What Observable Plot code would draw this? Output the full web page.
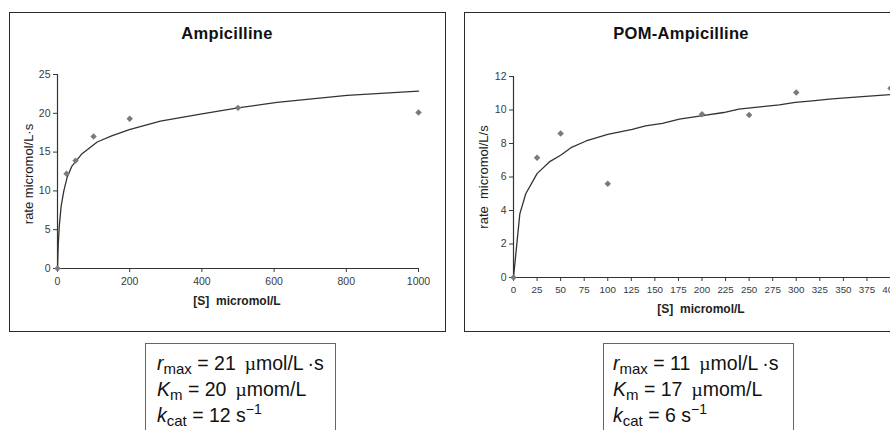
<!DOCTYPE html>
<html>
<head>
<meta charset="utf-8">
<script src="https://cdn.jsdelivr.net/npm/d3@7"></script>
<script src="https://cdn.jsdelivr.net/npm/@observablehq/plot@0.6"></script>
<style>
  html, body { margin: 0; padding: 0; }
  body { width: 890px; height: 430px; overflow: hidden; position: relative; background: #fff;
         font-family: "Liberation Sans", Arial, sans-serif; }
  .abs { position: absolute; }
  .abs svg { max-width: none !important; }
  .panel { position: absolute; border: 1.5px solid #2a2a2a; box-sizing: border-box; }
  .box { position: absolute; border: 1.3px solid #666; box-sizing: border-box; }
  #overlay { position: absolute; left: 0; top: 0; }
</style>
</head>
<body>
<div id="leftChart" class="abs" style="left:0;top:0;width:445px;height:335px"></div>
<div id="rightChart" class="abs" style="left:445px;top:0;width:480px;height:335px"></div>
<div class="panel" style="left:9px;top:12px;width:437px;height:320px"></div>
<div class="panel" style="left:464px;top:12px;width:440px;height:320px"></div>
<div class="box" style="left:145px;top:343px;width:191px;height:100px"></div>
<div class="box" style="left:603px;top:343px;width:191px;height:100px"></div>
<svg id="overlay" width="890" height="430" font-family="Liberation Sans, Arial, sans-serif"></svg>
<script>
// ---- Ampicilline (left) ----
const ampS = [0, 25, 50, 100, 200, 500, 1000];
const ampRate = [0, 12.2, 13.9, 17.0, 19.3, 20.7, 20.1];
const ampFitS = [0, 2, 5, 10, 17.5, 27, 40, 68, 110, 150, 199, 285, 396, 500, 608, 802, 1000];
const ampFitRate = [0, 3, 5.5, 8, 10, 11.8, 13.2, 14.8, 16.3, 17.1, 17.9, 19.0, 19.9, 20.7, 21.4, 22.3, 22.85];
const ampXTicks = [0, 200, 400, 600, 800, 1000];
const ampYTicks = [0, 5, 10, 15, 20, 25];

// ---- POM-Ampicilline (right) ----
const pomS = [0, 25, 50, 100, 200, 250, 300, 400];
const pomRate = [0, 7.15, 8.6, 5.6, 9.75, 9.7, 11.05, 11.3];
const pomFitS = [0, 6.7, 13, 25, 38, 50, 61, 77, 100, 126, 140, 158, 176, 199, 223, 239, 264, 282, 299, 317, 335, 352, 370, 400];
const pomFitRate = [0, 3.8, 5.0, 6.2, 6.9, 7.3, 7.75, 8.15, 8.55, 8.85, 9.05, 9.2, 9.45, 9.65, 9.85, 10.05, 10.2, 10.3, 10.45, 10.55, 10.65, 10.72, 10.8, 10.92];
const pomXTicks = [0, 25, 50, 75, 100, 125, 150, 175, 200, 225, 250, 275, 300, 325, 350, 375, 400];
const pomYTicks = [0, 2, 4, 6, 8, 10, 12];

const titles = ["Ampicilline", "POM-Ampicilline"];
const xLabels = ["[S]  micromol/L", "[S]  micromol/L"];
const yLabels = ["rate micromol/L·s", "rate  micromol/L/s"];

function zip(xs, ys) { return xs.map((x, i) => ({x, y: ys[i]})); }

function chart(o) {
  return Plot.plot({
    width: o.width, height: o.height,
    marginLeft: o.ml, marginRight: o.mr, marginTop: o.mt, marginBottom: o.mb,
    style: {fontFamily: "Liberation Sans, Arial, sans-serif", fontSize: "10.5px", color: "#3a3a3a", background: "none", overflow: "visible", maxWidth: "none"},
    x: {domain: o.xDomain},
    y: {domain: o.yDomain},
    marks: [
      Plot.axisX({ticks: o.xTicks, tickFormat: d => String(d), tickSize: 4, tickPadding: 5, label: null, fontSize: o.xFont}),
      Plot.axisY({ticks: o.yTicks, tickFormat: d => String(d), tickSize: 4, tickPadding: 3, label: null, fontSize: 10.5}),
      Plot.ruleY([0], {stroke: "#333", strokeWidth: 1.2}),
      Plot.ruleX([0], {stroke: "#333", strokeWidth: 1.2}),
      Plot.line(o.fit, {x: "x", y: "y", stroke: "#333", strokeWidth: 1.3}),
      Plot.dot(o.pts, {x: "x", y: "y", symbol: "diamond2", r: 2.9, fill: "#7a7a7a", stroke: "none"})
    ]
  });
}

document.getElementById("leftChart").appendChild(chart({
  width: 445, height: 335, ml: 57, mr: 27, mt: 74, mb: 67,
  xDomain: [0, 1000], yDomain: [0, 25], xTicks: ampXTicks, yTicks: ampYTicks, xFont: 10.5,
  fit: zip(ampFitS, ampFitRate), pts: zip(ampS, ampRate)
}));
document.getElementById("rightChart").appendChild(chart({
  width: 480, height: 335, ml: 68, mr: 35, mt: 76, mb: 58,
  xDomain: [0, 400], yDomain: [0, 12], xTicks: pomXTicks, yTicks: pomYTicks, xFont: 9.8,
  fit: zip(pomFitS, pomFitRate), pts: zip(pomS, pomRate)
}));

// ---- text overlay ----
const ov = d3.select("#overlay");
function txt(x, y, s, attrs) {
  const t = ov.append("text").attr("x", x).attr("y", y).text(s);
  for (const k in attrs) t.attr(k, attrs[k]);
  return t;
}
txt(227, 39, titles[0], {"text-anchor": "middle", "font-weight": "bold", "font-size": 16.5, "letter-spacing": 0.3, fill: "#111"});
txt(681, 39, titles[1], {"text-anchor": "middle", "font-weight": "bold", "font-size": 16.5, "letter-spacing": 0.3, fill: "#111"});
txt(237, 305, xLabels[0], {"text-anchor": "middle", "font-weight": "bold", "font-size": 12, fill: "#222", "xml:space": "preserve"});
txt(701, 313, xLabels[1], {"text-anchor": "middle", "font-weight": "bold", "font-size": 12, fill: "#222", "xml:space": "preserve"});
txt(33, 174, yLabels[0], {"text-anchor": "middle", "font-size": 13, fill: "#222", transform: "rotate(-90,33,174)"});
txt(488, 177, yLabels[1], {"text-anchor": "middle", "font-size": 13, fill: "#222", transform: "rotate(-90,488,177)", "xml:space": "preserve"});

// formula boxes
const params = [
  {x: 157, rmax: "21", km: "20", kcat: "12"},
  {x: 613, rmax: "11", km: "17", kcat: "6"}
];
const FS = 19.5, SUB = 15;
params.forEach(p => {
  let t = ov.append("text").attr("x", p.x).attr("y", 370).attr("font-size", FS).attr("fill", "#111");
  t.append("tspan").attr("font-style", "italic").text("r");
  t.append("tspan").attr("font-size", SUB).attr("dy", 4).text("max");
  t.append("tspan").attr("dy", -4).text(" = " + p.rmax);
  t.append("tspan").attr("dx", 9).attr("font-family", "Liberation Serif, serif").text("\u00b5");
  t.append("tspan").text("mol/L\u2009\u00b7s");

  t = ov.append("text").attr("x", p.x).attr("y", 396).attr("font-size", FS).attr("fill", "#111");
  t.append("tspan").attr("font-style", "italic").text("K");
  t.append("tspan").attr("font-size", SUB).attr("dy", 4).text("m");
  t.append("tspan").attr("dy", -4).text(" = " + p.km);
  t.append("tspan").attr("dx", 9).attr("font-family", "Liberation Serif, serif").text("\u00b5");
  t.append("tspan").text("mom/L");

  t = ov.append("text").attr("x", p.x).attr("y", 422).attr("font-size", FS).attr("fill", "#111");
  t.append("tspan").attr("font-style", "italic").text("k");
  t.append("tspan").attr("font-size", SUB).attr("dy", 4).text("cat");
  t.append("tspan").attr("dy", -4).text(" = " + p.kcat + " s");
  t.append("tspan").attr("font-size", SUB - 1).attr("dy", -8).text("\u22121");
});
</script>
</body>
</html>
